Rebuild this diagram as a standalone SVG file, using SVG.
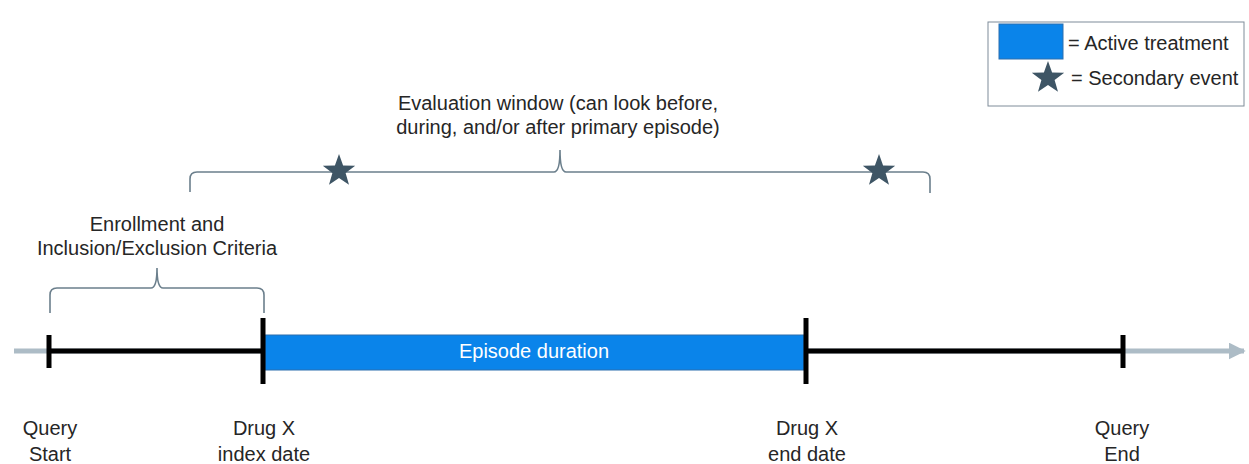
<svg xmlns="http://www.w3.org/2000/svg" width="1249" height="464" viewBox="0 0 1249 464">
  <style>
    .lbl { font-family: "Liberation Sans", Arial, sans-serif; font-size: 20px; fill: #262626; text-anchor: middle; }
    .leg { font-family: "Liberation Sans", Arial, sans-serif; font-size: 20px; fill: #262626; }
    .axis { stroke: #adbcc6; stroke-width: 5; fill: none; }
    .bar { stroke: #000; stroke-width: 5; fill: none; }
    .tick { stroke: #000; stroke-width: 5; }
    .brace { stroke: #6b7f8c; stroke-width: 1.6; fill: none; }
    .star { fill: #3e5565; }
  </style>
  <defs>
    <marker id="axisHead" viewBox="0 0 10 10" refX="9" refY="5" markerWidth="3.4" markerHeight="3.4" orient="auto" markerUnits="strokeWidth">
      <path d="M0,0 L10,5 L0,10 Z" fill="#adbcc6"/>
    </marker>
    <path id="starShape" d="M0,-17 L4.1,-5.6 L16.2,-5.3 L6.6,2.1 L10,13.8 L0,7 L-10,13.8 L-6.6,2.1 L-16.2,-5.3 L-4.1,-5.6 Z"/>
  </defs>

  <!-- connectors: timeline axis, period bars and braces -->
  <g id="connectors">
    <line class="axis" x1="14" y1="351" x2="1244" y2="351" marker-end="url(#axisHead)"/>
    <line class="bar" x1="49" y1="351" x2="263" y2="351"/>
    <line class="bar" x1="806" y1="351" x2="1123" y2="351"/>
    <path class="brace" d="M50,313 L50,295 Q50,288 57,288 L151,288 Q157,288 157,268 Q157,288 163,288 L257,288 Q264,288 264,295 L264,313"/>
    <path class="brace" d="M190,192 L190,179 Q190,172 197,172 L554,172 Q560,172 560,150 Q560,172 566,172 L923,172 Q930,172 930,179 L930,193"/>
  </g>

  <!-- active treatment episode -->
  <g id="episode">
    <rect x="265" y="335" width="539" height="35" fill="#0a84ea" stroke="#2d6fae" stroke-width="1"/>
    <text class="lbl" x="534" y="358" fill="#ffffff" style="fill:#ffffff">Episode duration</text>
  </g>

  <!-- timeline ticks and labels -->
  <g id="query-start">
    <line class="tick" x1="49" y1="335" x2="49" y2="368"/>
    <text class="lbl" x="50" y="435">Query</text>
    <text class="lbl" x="50" y="461">Start</text>
  </g>
  <g id="index-date">
    <line class="tick" x1="263" y1="318" x2="263" y2="384"/>
    <text class="lbl" x="264" y="435">Drug X</text>
    <text class="lbl" x="264" y="461">index date</text>
  </g>
  <g id="end-date">
    <line class="tick" x1="806" y1="318" x2="806" y2="384"/>
    <text class="lbl" x="807" y="435">Drug X</text>
    <text class="lbl" x="807" y="461">end date</text>
  </g>
  <g id="query-end">
    <line class="tick" x1="1123" y1="335" x2="1123" y2="368"/>
    <text class="lbl" x="1122" y="435">Query</text>
    <text class="lbl" x="1122" y="461">End</text>
  </g>

  <!-- brace labels -->
  <g id="enrollment">
    <text class="lbl" x="157" y="231">Enrollment and</text>
    <text class="lbl" x="157" y="255">Inclusion/Exclusion Criteria</text>
  </g>
  <g id="evaluation-window">
    <text class="lbl" x="558" y="110">Evaluation window (can look before,</text>
    <text class="lbl" x="558" y="134">during, and/or after primary episode)</text>
  </g>

  <!-- secondary events -->
  <g id="event-1"><use href="#starShape" class="star" transform="translate(339,171)"/></g>
  <g id="event-2"><use href="#starShape" class="star" transform="translate(879,171)"/></g>

  <!-- legend -->
  <g id="legend">
    <rect x="988" y="22" width="256" height="84" fill="#ffffff" stroke="#7f8c99" stroke-width="1"/>
    <rect x="999" y="24" width="64" height="35" fill="#0a84ea" stroke="#2d6fae" stroke-width="1"/>
    <text class="leg" x="1068" y="50">= Active treatment</text>
    <use href="#starShape" class="star" transform="translate(1048,78)"/>
    <text class="leg" x="1071" y="85">= Secondary event</text>
  </g>
</svg>
